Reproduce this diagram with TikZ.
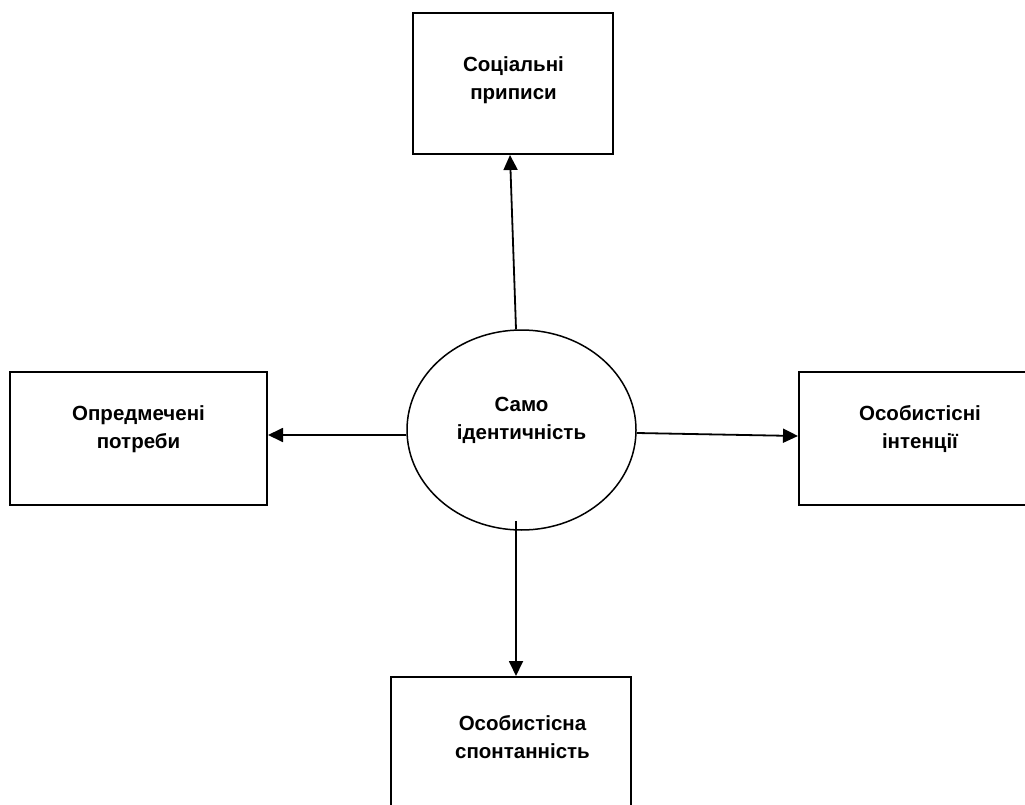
\documentclass[tikz,border=0pt]{standalone}
\usepackage{fontspec}
\setmainfont{Liberation Sans}
\usetikzlibrary{arrows.meta,shapes.geometric}

\begin{document}
\begin{tikzpicture}
        [x=1pt, y=-1pt,
        box/.style={rectangle, draw, line width=2pt, inner sep=0pt},
        boxtext/.style={font=\bfseries\fontsize{20.5}{28}\selectfont, align=center, inner sep=0pt},
        arrow/.style={line width=1.8pt, -{Triangle[width=14pt,length=15pt]}},]

        \useasboundingbox (0,0) rectangle (1025,805);
        \clip (0,0) rectangle (1025,805);

        % boxes and the centre
        \node[box, minimum width=200pt, minimum height=141pt] (social) at (513,83.5) {};
        \node[box, minimum width=257pt, minimum height=133pt] (needs) at (138.5,438.5) {};
        \node[box, minimum width=242pt, minimum height=133pt] (intent) at (920,438.5) {};
        \node[box, minimum width=240pt, minimum height=133pt] (spont) at (511,743.5) {};
        \node[ellipse, draw, line width=1.5pt, minimum width=229pt, minimum height=200pt] (self) at (521.5,430) {};

        % texts
        \node[boxtext] (social-text) at (513.5,80) {Соціальні\\приписи};
        \node[boxtext] (needs-text) at (138.5,429) {Опредмечені\\потреби};
        \node[boxtext] (intent-text) at (920,429) {Особистісні\\інтенції};
        \node[boxtext] (spont-text) at (522.5,737) {Особистісна\\спонтанність};
        \node[boxtext] (self-text) at (521.5,420) {Само\\ідентичність};

        % arrows
        \draw[arrow] ([xshift=-5.5pt]self.north) -- ([xshift=-3pt]social.south);
        \draw[arrow] ([yshift=-5pt]self.west) -- ([yshift=3.5pt]needs.east);
        \draw[arrow] ([yshift=-3pt]self.east) -- ([yshift=2.5pt]intent.west);
        \draw[arrow] ([xshift=-5.5pt, yshift=10pt]self.south) -- ([xshift=5pt]spont.north);

    \end{tikzpicture}
\end{document}
